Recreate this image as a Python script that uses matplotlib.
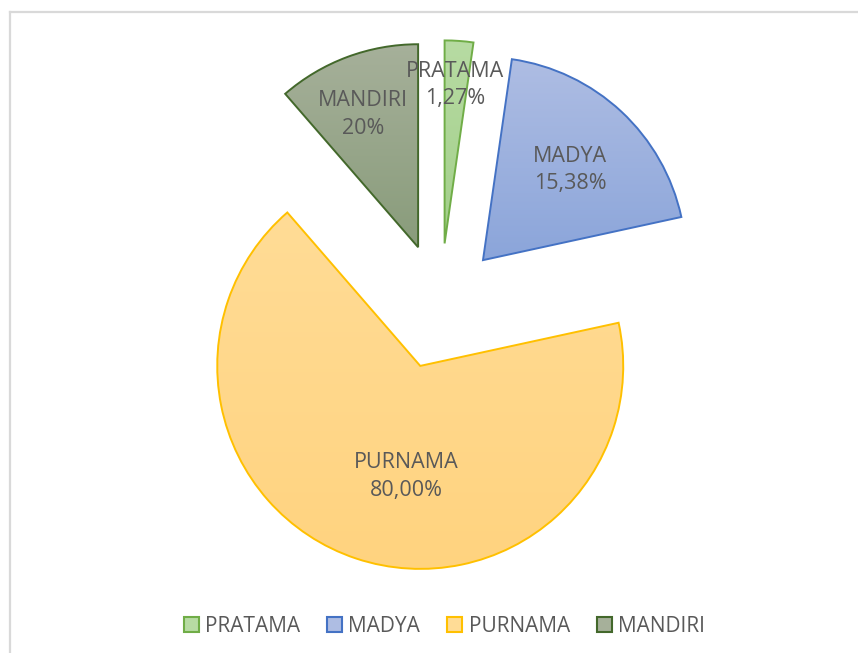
import numpy as np
import matplotlib
matplotlib.use("Agg")
import matplotlib.pyplot as plt
from matplotlib.patches import Patch
from matplotlib.lines import Line2D
from matplotlib.colors import to_rgb

plt.rcParams['font.family'] = ['Open Sans', 'DejaVu Sans']

# slice sizes and the label texts shown on the chart
categories = ['PRATAMA', 'MADYA', 'PURNAMA', 'MANDIRI']
sizes = [2, 17, 59, 10]
label_texts = ['1,27%', '15,38%', '80,00%', '20%']

# colours: gradient top, gradient bottom, outline
top_colors = ['#b7dba3', '#aebde3', '#ffdc96', '#a6b09a']
bottom_colors = ['#a2cf89', '#8ba5da', '#ffd37f', '#899c7b']
edge_colors = ['#70ad47', '#4472c4', '#ffc000', '#43682b']

# where the data labels sit (axes data units)
label_xy = [(0.073, 1.090), (0.640, 0.671), (-0.165, -0.839), (-0.380, 0.945)]

fig = plt.figure(figsize=(8.58, 6.53), dpi=100)
ax = fig.add_axes([0.1817, 0.0959, 0.6625, 0.8704])

wedges, _ = ax.pie(sizes, startangle=90, counterclock=False, radius=1,
                   explode=[0.31] * len(sizes),
                   wedgeprops=dict(linewidth=1.4))

for w, c_top, c_bot, ec in zip(wedges, top_colors, bottom_colors, edge_colors):
    verts = w.get_path().vertices
    x0, y0 = verts.min(axis=0)
    x1, y1 = verts.max(axis=0)
    t = np.linspace(0, 1, 256)[:, None]
    grad = (1 - t) * np.array(to_rgb(c_top)) + t * np.array(to_rgb(c_bot))
    im = ax.imshow(grad[:, None, :], extent=[x0, x1, y0, y1], origin='upper',
                   aspect='auto', interpolation='bilinear', zorder=1)
    im.set_clip_path(w)
    w.set_facecolor('none')
    w.set_edgecolor(ec)
    w.set_zorder(2)

for name, txt, (lx, ly) in zip(categories, label_texts, label_xy):
    ax.text(lx, ly, name + '\n' + txt, ha='center', va='center',
            fontsize=15.5, color='#595959', linespacing=1.4, zorder=3)

ax.set_xlim(-1.4, 1.4)
ax.set_ylim(-1.4, 1.4)
ax.set_aspect('equal')
ax.axis('off')

handles = [Patch(facecolor=c, edgecolor=e, linewidth=1.5)
           for c, e in zip(top_colors, edge_colors)]
fig.legend(handles, categories, loc='center', bbox_to_anchor=(0.518, 0.0413),
           ncol=4, frameon=False, fontsize=15, labelcolor='#595959',
           handlelength=0.72, handleheight=0.72, handletextpad=0.3,
           columnspacing=1.3)

# chart area border (only left and top edges are visible in the crop)
fig.add_artist(Line2D([9.5 / 858, 9.5 / 858], [0, 1 - 12 / 653],
                      transform=fig.transFigure, color='#d9d9d9', lw=1.6))
fig.add_artist(Line2D([9.5 / 858, 1], [1 - 12 / 653, 1 - 12 / 653],
                      transform=fig.transFigure, color='#d9d9d9', lw=1.6))

fig.savefig('out.png', dpi=100, facecolor='white')
